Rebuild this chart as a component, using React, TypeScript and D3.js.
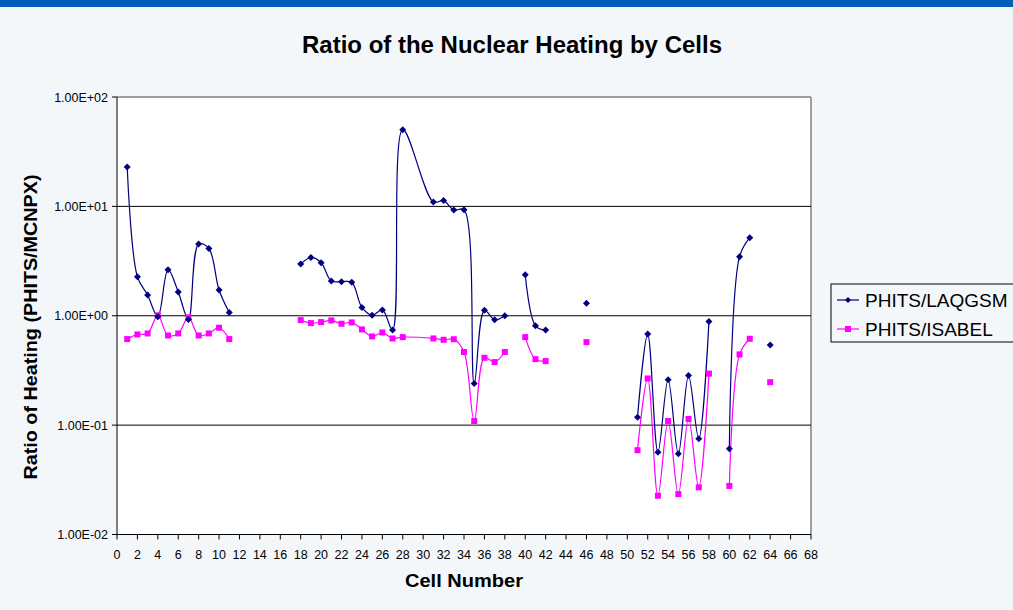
import React from "react";
import * as d3 from "d3";

const cells: number[] = [1,2,3,4,5,6,7,8,9,10,11,12,18,19,20,21,22,23,24,25,26,27,28,31,32,33,34,35,36,37,38,39,40,41,42,43,46,47,51,52,53,54,55,56,57,58,59,60,61,62,63,64];
const laqgsm: (number | null)[] = [22.9,2.27,1.55,0.98,2.64,1.65,0.925,4.53,4.13,1.72,1.07,null,2.97,3.41,3.05,2.08,2.05,2.02,1.19,1.01,1.13,0.74,50.3,10.97,11.3,9.27,9.33,0.24,1.12,0.919,1.0,null,2.37,0.81,0.74,null,1.3,null,0.118,0.68,0.0566,0.26,0.0547,0.284,0.075,0.888,null,0.0607,3.47,5.17,null,0.539];
const isabel: (number | null)[] = [0.612,0.675,0.689,1.01,0.66,0.689,0.966,0.66,0.689,0.777,0.612,null,0.912,0.857,0.875,0.906,0.845,0.869,0.75,0.647,0.703,0.62,0.638,0.62,0.603,0.61,0.466,0.109,0.413,0.377,0.466,null,0.638,0.401,0.385,null,0.574,null,0.059,0.267,0.0226,0.109,0.0234,0.114,0.027,0.296,null,0.0278,0.443,0.616,null,0.247];
const yTicks: number[] = [0.01, 0.1, 1, 10, 100];
const yTickLabels: string[] = ["1.00E-02", "1.00E-01", "1.00E+00", "1.00E+01", "1.00E+02"];
const xTicks: number[] = d3.range(0, 69, 2);
const seriesNames: string[] = ["PHITS/LAQGSM", "PHITS/ISABEL"];

const W = 1013, H = 610;
const L = 117, R = 811, T = 97, B = 534.5;
const FONT = "'Liberation Sans', Arial, sans-serif";
const NAVY = "#000080", MAG = "#FF00FF";

export default function App() {
  const x = d3.scaleLinear().domain([0, 68]).range([L, R]);
  const y = d3.scaleLog().domain([0.01, 100]).range([B, T]);

  type P = { c: number; v: number | null };
  const mk = (vals: (number | null)[]): P[] => cells.map((c, i) => ({ c, v: vals[i] }));
  const line = d3
    .line<P>()
    .defined((d) => d.v != null)
    .x((d) => x(d.c))
    .y((d) => y(d.v as number))
    .curve(d3.curveCatmullRom.alpha(0.5));

  const s1 = mk(laqgsm), s2 = mk(isabel);
  const diamond = (cx: number, cy: number, r: number) =>
    `M${cx},${cy - r}L${cx + r},${cy}L${cx},${cy + r}L${cx - r},${cy}Z`;

  return (
    <svg width={W} height={H} style={{ position: "absolute", left: 0, top: 0, display: "block" }} fontFamily={FONT}>
      <rect x={0} y={0} width={W} height={H} fill="#F4F7FA" />
      <rect x={0} y={0} width={W} height={7} fill="#005EB8" />
      <text x={512} y={53} textAnchor="middle" fontSize={23} fontWeight="bold" fill="#000" textLength={420} lengthAdjust="spacingAndGlyphs">
        Ratio of the Nuclear Heating by Cells
      </text>
      <rect x={L} y={T} width={R - L} height={B - T} fill="#FFFFFF" />
      <line x1={L} x2={R} y1={T} y2={T} stroke="#808080" strokeWidth={1.5} />
      <line x1={R} x2={R} y1={T} y2={B} stroke="#808080" strokeWidth={1.5} />
      {yTicks.slice(1, 4).map((t) => (
        <line key={t} x1={L} x2={R} y1={y(t)} y2={y(t)} stroke="#000" strokeWidth={1} />
      ))}
      <line x1={L} x2={L} y1={T} y2={B} stroke="#000" strokeWidth={1} />
      <line x1={L} x2={R} y1={B} y2={B} stroke="#000" strokeWidth={1} />
      {yTicks.map((t, i) => (
        <g key={t}>
          <line x1={L - 5} x2={L} y1={y(t)} y2={y(t)} stroke="#000" />
          <text x={L - 9} y={y(t) + 4.5} textAnchor="end" fontSize={12.5} fill="#000">
            {yTickLabels[i]}
          </text>
        </g>
      ))}
      {xTicks.map((t) => (
        <g key={t}>
          <line x1={x(t)} x2={x(t)} y1={B} y2={B + 5} stroke="#000" />
          <text x={x(t)} y={B + 24} textAnchor="middle" fontSize={12.5} fill="#000">
            {t}
          </text>
        </g>
      ))}
      <text x={464} y={587} textAnchor="middle" fontSize={19} fontWeight="bold" fill="#000" textLength={118} lengthAdjust="spacingAndGlyphs">
        Cell Number
      </text>
      <text transform={`translate(37,327) rotate(-90)`} textAnchor="middle" fontSize={19} fontWeight="bold" fill="#000" textLength={305} lengthAdjust="spacingAndGlyphs">
        Ratio of Heating (PHITS/MCNPX)
      </text>
      <path d={line(s1) || ""} fill="none" stroke={NAVY} strokeWidth={1.2} />
      <path d={line(s2) || ""} fill="none" stroke={MAG} strokeWidth={1.2} />
      {s2.filter((d) => d.v != null).map((d) => (
        <rect key={"s" + d.c} x={x(d.c) - 3} y={y(d.v as number) - 3} width={6} height={6} fill={MAG} />
      ))}
      {s1.filter((d) => d.v != null).map((d) => (
        <path key={"d" + d.c} d={diamond(x(d.c), y(d.v as number), 3.5)} fill={NAVY} />
      ))}
      <rect x={831} y={284} width={200} height={58} fill="#F4F7FA" stroke="#000" strokeWidth={1} />
      {seriesNames.map((n, i) => {
        const cy = 300 + i * 29;
        return (
          <g key={n}>
            <line x1={837} x2={859} y1={cy} y2={cy} stroke={i === 0 ? NAVY : MAG} strokeWidth={1.2} />
            {i === 0 ? (
              <path d={diamond(848, cy, 3)} fill={NAVY} />
            ) : (
              <rect x={845} y={cy - 3} width={6} height={6} fill={MAG} />
            )}
            <text x={865} y={cy + 6.5} fontSize={19} fill="#000">
              {n}
            </text>
          </g>
        );
      })}
    </svg>
  );
}
